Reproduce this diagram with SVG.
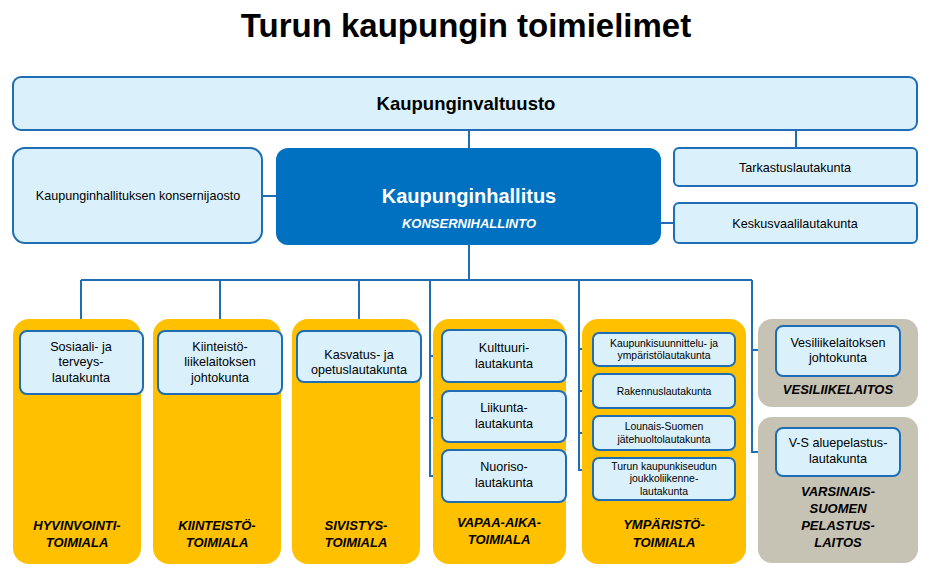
<svg xmlns="http://www.w3.org/2000/svg" width="933" height="574" viewBox="0 0 933 574">
<style>
text{font-family:"Liberation Sans",Arial,sans-serif;text-anchor:middle;fill:#000}
.b{fill:#DAF1FB;stroke:#1F6DB5;stroke-width:2}
.o{fill:#FFC000}
.g{fill:#C6C2B4}
.t{font-size:12.6px}
.s{font-size:10.4px}
.l{font-size:13px;font-weight:bold;font-style:italic}
.c path{fill:none;stroke:#1F6DB5;stroke-width:2}
</style>
<rect width="933" height="574" fill="#fff"/>
<text x="466" y="37" style="font-size:33px;font-weight:bold">Turun kaupungin toimielimet</text>
<g class="c">
<path d="M469 130V148M796 130V148M262 196H276M661 223H674M469 245V280M81 280H752M81 280V331M220 280V331M359 280V331M430 280V476H442M430 356H442M430 418H442M579 280V470H593M579 349H593M579 391H593M579 433H593M752 280V452H776M752 350H776"/>
</g>
<g id="valtuusto"><rect class="b" x="13" y="77" width="904" height="53" rx="8"/><text x="466" y="110" style="font-size:18.5px;font-weight:bold">Kaupunginvaltuusto</text></g>
<g id="konsernijaosto"><rect class="b" x="13" y="148" width="249" height="95" rx="12"/><text class="t" x="138" y="200">Kaupunginhallituksen konsernijaosto</text></g>
<g id="hallitus"><rect x="276" y="148" width="385" height="97" rx="12" fill="#0070C0"/><text x="469" y="203" style="font-size:20px;font-weight:bold;fill:#fff">Kaupunginhallitus</text><text class="l" x="469" y="228" style="fill:#fff">KONSERNIHALLINTO</text></g>
<g id="tarkastus"><rect class="b" x="674" y="148" width="243" height="38" rx="5"/><text class="t" x="795" y="172">Tarkastuslautakunta</text></g>
<g id="keskusvaali"><rect class="b" x="674" y="203" width="243" height="40" rx="5"/><text class="t" x="795" y="228">Keskusvaalilautakunta</text></g>
<g id="hyvinvointi"><rect class="o" x="13" y="319" width="128" height="245" rx="16"/><text class="l" x="77" y="530">HYVINVOINTI-</text><text class="l" x="77" y="547">TOIMIALA</text>
<rect class="b" x="20" y="331" width="123" height="63" rx="7"/><text class="t" x="81" y="351">Sosiaali- ja</text><text class="t" x="81" y="366">terveys-</text><text class="t" x="81" y="382">lautakunta</text></g>
<g id="kiinteisto"><rect class="o" x="153" y="319" width="128" height="245" rx="16"/><text class="l" x="217" y="530">KIINTEISTÖ-</text><text class="l" x="217" y="547">TOIMIALA</text>
<rect class="b" x="158" y="331" width="124" height="63" rx="7"/><text class="t" x="220" y="351">Kiinteistö-</text><text class="t" x="220" y="366">liikelaitoksen</text><text class="t" x="220" y="382">johtokunta</text></g>
<g id="sivistys"><rect class="o" x="292" y="319" width="128" height="245" rx="16"/><text class="l" x="356" y="530">SIVISTYS-</text><text class="l" x="356" y="547">TOIMIALA</text>
<rect class="b" x="297" y="331" width="124" height="51" rx="7"/><text class="t" x="359" y="359">Kasvatus- ja</text><text class="t" x="359" y="374">opetuslautakunta</text></g>
<g id="vapaa-aika"><rect class="o" x="433" y="319" width="133" height="245" rx="16"/><text class="l" x="499" y="527">VAPAA-AIKA-</text><text class="l" x="499" y="544">TOIMIALA</text>
<rect class="b" x="442" y="330" width="124" height="52" rx="7"/><text class="t" x="504" y="352">Kulttuuri-</text><text class="t" x="504" y="368">lautakunta</text>
<rect class="b" x="442" y="391" width="124" height="51" rx="7"/><text class="t" x="504" y="412">Liikunta-</text><text class="t" x="504" y="428">lautakunta</text>
<rect class="b" x="442" y="450" width="124" height="52" rx="7"/><text class="t" x="504" y="471">Nuoriso-</text><text class="t" x="504" y="487">lautakunta</text></g>
<g id="ymparisto"><rect class="o" x="582" y="319" width="164" height="245" rx="16"/><text class="l" x="664" y="529">YMPÄRISTÖ-</text><text class="l" x="664" y="547">TOIMIALA</text>
<rect class="b" x="593" y="333" width="142" height="33" rx="6"/><text class="s" x="664" y="347">Kaupunkisuunnittelu-  ja</text><text class="s" x="664" y="359">ympäristölautakunta</text>
<rect class="b" x="593" y="374" width="142" height="34" rx="6"/><text class="s" x="664" y="395">Rakennuslautakunta</text>
<rect class="b" x="593" y="416" width="142" height="34" rx="6"/><text class="s" x="664" y="430">Lounais-Suomen</text><text class="s" x="664" y="443">jätehuoltolautakunta</text>
<rect class="b" x="593" y="458" width="142" height="42" rx="6"/><text class="s" x="664" y="470">Turun  kaupunkiseudun</text><text class="s" x="664" y="482">joukkoliikenne-</text><text class="s" x="664" y="495">lautakunta</text></g>
<g id="vesiliikelaitos"><rect class="g" x="758" y="319" width="160" height="88" rx="14"/><text class="l" x="838" y="394">VESILIIKELAITOS</text>
<rect class="b" x="776" y="326" width="124" height="50" rx="7"/><text class="t" x="838" y="347">Vesiliikelaitoksen</text><text class="t" x="838" y="362">johtokunta</text></g>
<g id="pelastuslaitos"><rect class="g" x="758" y="417" width="160" height="146" rx="14"/><text class="l" x="838" y="496">VARSINAIS-</text><text class="l" x="838" y="513">SUOMEN</text><text class="l" x="838" y="530">PELASTUS-</text><text class="l" x="838" y="547">LAITOS</text>
<rect class="b" x="776" y="428" width="124" height="48" rx="7"/><text class="t" x="838" y="447">V-S aluepelastus-</text><text class="t" x="838" y="463">lautakunta</text></g>
</svg>
